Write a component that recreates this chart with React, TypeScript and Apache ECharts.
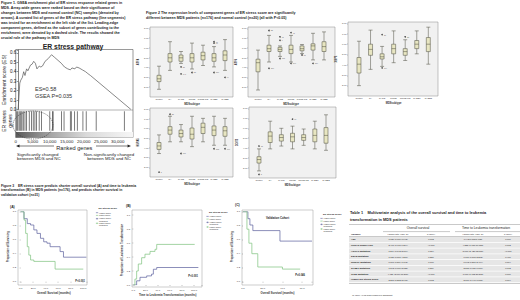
import React, { useEffect, useRef } from "react";
import * as echarts from "echarts";

const FONT = "'Liberation Sans', Arial, sans-serif";

// ---------- captions ----------
const fig1Caption = [
  "Figure 1. GSEA enrichment plot of ER stress response related genes in",
  "MDS. Array-wide genes were ranked based on their significance of",
  "changes between MDS and normal control (NC) samples (denoted by",
  "arrows). A curated list of genes of the ER stress pathway (line segments)",
  "was tested for an enrichment at the left side of the list. Leading-edge",
  "component genes, defined as the subset of genes contributing to the",
  "enrichment, were denoted by a dashed circle. The results showed the",
  "crucial role of the pathway in MDS",
];
const fig2Caption = [
  "Figure 2 The expression levels of component genes of ER stress score are significantly",
  "different between MDS patients (n=176) and normal control (n=20) (all with P<0.05)",
];
const fig3Caption = [
  "Figure 3    ER stress score predicts shorter overall survival (A) and time to leukemia",
  "transformation (B) in MDS patients (n=176), and predicts shorter survival in",
  "validation cohort (n=31)",
];

// ---------- Figure 1: GSEA ----------
const esRanks = [0, 490, 780, 1270, 1660, 2050, 2530, 2920, 3700, 4190, 4670, 5160, 5650, 6330, 6820, 7300, 8080, 9060, 10030, 11010, 11980, 12950, 13930, 14900, 15680, 16170, 17040, 17530, 18310, 19280, 20260, 20940, 21720, 33890];
const esValues = [0, 0.28, 0.31, 0.34, 0.4, 0.36, 0.43, 0.41, 0.47, 0.48, 0.51, 0.49, 0.43, 0.46, 0.45, 0.46, 0.51, 0.54, 0.58, 0.55, 0.52, 0.49, 0.45, 0.43, 0.42, 0.44, 0.43, 0.45, 0.44, 0.42, 0.4, 0.38, 0.36, 0];
const hitRanks = [290, 580, 970, 1270, 1560, 1850, 2240, 2730, 3210, 3990, 4670, 5160, 5650, 6140, 6910, 7600, 10030, 10810, 11010, 13450, 14220, 16070, 16360, 17330, 18120, 19770, 20740, 23670, 31950];
const esStat = "ES=0.58";
const gseaP = "GSEA P=0.035";

// ---------- Figure 2: box plots ----------
const subtypes = ["Control", "RA", "RARS", "RCMD", "RCMD-RS", "RAEB1", "RAEB2"];
const geneNames = ["ATF4", "ATF6", "XBP1", "HSPA5", "DDIT3"];
const boxAtf4 = [[11, 22, 26, 31, 44], [38, 50, 56, 62, 79], [48, 51, 56, 60, 65], [40, 50, 56, 62, 77], [45, 53, 59, 64, 74], [43, 51, 56, 62, 72], [38, 52, 60, 66, 82]];
const outAtf4 = [[2, 43, "88"], [2, 33, "141"], [3, 35, "52"], [5, 79, "17"], [5, 77, "96"], [5, 35, "120"], [6, 28, "64"]];
const boxAtf6 = [[10, 36, 49, 54, 67], [50, 65, 69, 74, 88], [58, 65, 68, 71, 73], [50, 62, 68, 74, 88], [62, 66, 69, 73, 75], [53, 67, 73, 76, 91], [53, 65, 72, 79, 93]];
const outAtf6 = [[1, 95, "33"], [1, 41, "150"], [2, 86, "71"], [2, 81, "9"], [2, 55, "112"], [3, 92, "45"], [3, 48, "160"], [4, 60, "81"], [5, 48, "129"]];
const boxXbp1 = [[14, 31, 43, 52, 74], [36, 55, 63, 70, 89], [40, 50, 53, 57, 67], [45, 57, 64, 70, 88], [48, 55, 60, 64, 76], [57, 64, 70, 75, 88], [43, 60, 70, 79, 93]];
const outXbp1 = [[2, 83, "27"], [2, 38, "104"], [4, 80, "58"]];
const boxHspa5 = [[34, 40, 45, 50, 61], [51, 62, 68, 73, 88], [51, 58, 63, 68, 76], [44, 55, 62, 71, 88], [51, 63, 72, 78, 85], [46, 60, 68, 74, 88], [46, 59, 67, 73, 85]];
const outHspa5 = [[0, 7, "5"], [1, 91, "38"], [2, 34, "117"], [5, 41, "132"], [6, 41, "170"]];
const boxDdit3 = [[10, 21, 26, 30, 41], [41, 50, 59, 65, 80], [45, 52, 57, 61, 70], [41, 51, 58, 63, 73], [46, 53, 57, 61, 69], [41, 51, 60, 69, 80], [39, 49, 60, 71, 89]];
const outDdit3 = [[0, 45, "12"], [0, 5, "3"], [3, 83, "66"]];

// ---------- Figure 3: survival ----------
const osHighT = [0, 5.3, 10.5, 15.8, 21, 26, 31.6, 36.8, 42, 47, 63, 68.4, 105];
const osHighS = [1, 0.9, 0.83, 0.81, 0.74, 0.69, 0.62, 0.57, 0.55, 0.5, 0.43, 0.35, 0.35];
const osLowT = [0, 5.3, 7.9, 10.5, 13, 15.8, 21, 55, 100];
const osLowS = [1, 0.88, 0.69, 0.5, 0.38, 0.31, 0.29, 0.18, 0.18];
const ltHighT = [0, 5.5, 11, 22, 30, 33, 38.5, 107];
const ltHighP = [0, 0.06, 0.11, 0.13, 0.155, 0.225, 0.25, 0.25];
const ltLowT = [0, 2.7, 5.5, 8.2, 13.7, 19.2, 27.5, 35.7, 38.5, 101];
const ltLowP = [0, 0.085, 0.2, 0.3, 0.39, 0.44, 0.48, 0.51, 0.58, 0.58];
const valHighT = [0, 5, 7, 10, 37.5, 70];
const valHighS = [1, 0.9, 0.81, 0.73, 0.58, 0.58];
const valLowT = [0, 4, 6, 9, 15, 40, 58];
const valLowS = [1, 0.75, 0.55, 0.4, 0.21, 0.18, 0.18];
const legendTitle = "ER Stress Score";
const legendItems = ["Higher score", "Lower score", "Higher score-\ncensored", "Lower score-\ncensored"];

// ---------- Table 1 ----------
const tableTitle = [
  "Table 1    Multivariate analysis of the overall survival and time to leukemia",
  "transformation in MDS patients",
];
const tableVariables = ["Age", "IPSS-R higher risk", "ASXL1 mutation", "EZH2 mutation", "RUNX1 mutation", "SF3B1 mutation", "TP53 mutation", "Higher ER stress score"];
const tableHrOs = ["1.026 (1.010-1.043)", "3.477 (1.918-6.304)", "1.514 (0.843-2.609)", "1.737 (0.801-4.278)", "0.867 (0.519-1.793)", "1.342 (0.687-2.623)", "4.626 (2.009-11.265)", "2.208 (1.302-3.745)"];
const tablePOs = ["0.002", "<0.001", "0.154", "0.250", "0.700", "0.389", "<0.001", "0.003"];
const tableHrLt = ["0.942(0.883-1.003)", "4.235 (1.668-10.753)", "5.617 (2.436-12.875)", "0.616 (0.168-2.262)", "0.843 (0.287-2.464)", "2.515 (0.920-6.876)", "7.078 (1.772-28.272)", "3.176 (1.440-7.005)"];
const tablePLt = ["0.060", "0.002", "<0.001", "0.460", "0.804", "0.072", "0.006", "0.004"];
const tableFootnote = "*P value <0.05 was considered significant";

const BLUE = "#5a5e9c";
const GREEN = "#7cc27c";

function txt(x: number, y: number, text: string, size: number, style: any = {}, extra: any = {}) {
  return {
    type: "text",
    x,
    y,
    z: 20,
    silent: true,
    ...extra,
    style: { text, fontSize: size, fontFamily: FONT, fill: "#222", align: "left", verticalAlign: "middle", ...style },
  };
}
function ln(x1: number, y1: number, x2: number, y2: number, stroke = "#444", lineWidth = 0.5, extra: any = {}) {
  return { type: "line", z: 20, silent: true, shape: { x1, y1, x2, y2 }, style: { stroke, lineWidth, ...extra } };
}
function rc(x: number, y: number, w: number, h: number, style: any, z = 0) {
  return { type: "rect", z, silent: true, shape: { x, y, width: w, height: h }, style };
}

function buildOption() {
  const grid: any[] = [];
  const xAxis: any[] = [];
  const yAxis: any[] = [];
  const series: any[] = [];
  const graphic: any[] = [];

  // captions
  fig1Caption.forEach((l, i) => graphic.push(txt(1, 2.7 + i * 5, l, 3.6, { fontWeight: "bold" })));
  fig2Caption.forEach((l, i) => graphic.push(txt(146, 12.5 + i * 5.5, l, 3.6, { fontWeight: "bold" })));
  fig3Caption.forEach((l, i) => graphic.push(txt(1, 185.7 + i * 4.4, l, 3.4, { fontWeight: "bold" })));

  // ---- GSEA ----
  graphic.push(txt(73, 46, "ER stress pathway", 6.8, { fontWeight: "bold", align: "center" }));
  graphic.push(rc(15.7, 49.5, 117.3, 88, { fill: "#fff", stroke: "#555", lineWidth: 0.6 }));
  graphic.push(ln(15.7, 110, 133, 110, "#666", 0.5));
  graphic.push(
    rc(15.7, 132, 117.3, 5.5, {
      fill: new echarts.graphic.LinearGradient(0, 0, 1, 0, [
        { offset: 0, color: "#5a5a5a" },
        { offset: 0.3, color: "#a5a5a5" },
        { offset: 0.6, color: "#dadada" },
        { offset: 1, color: "#f6f6f6" },
      ]),
    }, 1)
  );
  graphic.push({
    type: "ellipse",
    z: 20,
    silent: true,
    shape: { cx: 33, cy: 125, rx: 20, ry: 14 },
    style: { fill: "none", stroke: "#333", lineWidth: 0.6, lineDash: [1.2, 1] },
  });
  graphic.push(txt(35, 89, esStat, 5.5, { fill: "#333" }));
  graphic.push(txt(35, 96, gseaP, 5.5, { fill: "#333" }));
  graphic.push(txt(7, 121, "ER stress\ngenes", 5, { align: "center", lineHeight: 5.5 }, { rotation: Math.PI / 2 }));
  // arrows
  graphic.push(ln(19, 146, 54, 146, "#222", 0.6));
  graphic.push({ type: "polygon", z: 20, silent: true, shape: { points: [[16, 146], [19.5, 144.6], [19.5, 147.4]] }, style: { fill: "#222" } });
  graphic.push(ln(96, 146, 127.5, 146, "#222", 0.6));
  graphic.push({ type: "polygon", z: 20, silent: true, shape: { points: [[131, 146], [127.5, 144.6], [127.5, 147.4]] }, style: { fill: "#222" } });
  graphic.push(txt(17, 154, "Significantly changed", 4.4));
  graphic.push(txt(17, 158.7, "between MDS and NC", 4.4));
  graphic.push(txt(109, 154, "Non-significantly changed", 4.4, { align: "center" }));
  graphic.push(txt(109, 158.7, "between MDS and NC", 4.4, { align: "center" }));

  grid.push({ left: 15.7, top: 50, width: 117.3, height: 59.5 });
  xAxis.push({ gridIndex: 0, type: "value", min: 0, max: 34500, show: false });
  yAxis.push({
    gridIndex: 0,
    type: "value",
    min: 0,
    max: 0.63,
    interval: 0.1,
    axisLine: { show: true, lineStyle: { color: "#333", width: 0.6 } },
    axisTick: { show: true, length: 1.5, lineStyle: { color: "#333", width: 0.5 } },
    splitLine: { show: false },
    axisLabel: {
      fontSize: 4.5,
      margin: 2,
      color: "#222",
      formatter: (v: number) => (Math.abs(v * 10 - Math.round(v * 10)) < 1e-6 ? v.toFixed(1) : ""),
    },
    name: "Enrichment score (ES)",
    nameLocation: "middle",
    nameGap: 9.5,
    nameTextStyle: { fontSize: 5, color: "#222" },
  });
  series.push({
    type: "line",
    xAxisIndex: 0,
    yAxisIndex: 0,
    data: esRanks.map((r, i) => [r, esValues[i]]),
    symbol: "none",
    lineStyle: { color: "#555", width: 0.7 },
  });

  grid.push({ left: 15.7, top: 110.5, width: 117.3, height: 21 });
  xAxis.push({
    gridIndex: 1,
    type: "value",
    min: 0,
    max: 34500,
    interval: 5000,
    axisLine: { show: false },
    axisTick: { show: false },
    splitLine: { show: false },
    axisLabel: {
      fontSize: 4.4,
      margin: 7.5,
      color: "#222",
      formatter: (v: number) => (v % 5000 === 0 ? v.toLocaleString("en-US") : ""),
    },
    name: "Ranked genes",
    nameLocation: "middle",
    nameGap: 13.2,
    nameTextStyle: { fontSize: 5.6, color: "#222" },
  });
  yAxis.push({ gridIndex: 1, type: "value", min: 0, max: 1, show: false });
  series.push({
    type: "scatter",
    xAxisIndex: 1,
    yAxisIndex: 1,
    data: hitRanks.map((r) => [r, 0.5]),
    symbol: "rect",
    symbolSize: [0.8, 19.5],
    itemStyle: { color: "#333" },
  });

  // ---- Box plots ----
  const boxData = [boxAtf4, boxAtf6, boxXbp1, boxHspa5, boxDdit3];
  const outData = [outAtf4, outAtf6, outXbp1, outHspa5, outDdit3];
  const boxLayout = [
    { g: { left: 153.5, top: 27, width: 77, height: 70 }, f: [150, 27, 83, 70] },
    { g: { left: 252.5, top: 27, width: 77, height: 70 }, f: [248, 27, 87, 70] },
    { g: { left: 353.2, top: 22, width: 80.9, height: 74 }, f: [348, 22, 90, 74] },
    { g: { left: 153.5, top: 108, width: 77, height: 69 }, f: [150, 108, 83, 69] },
    { g: { left: 253.4, top: 107, width: 78.2, height: 71 }, f: [249, 107, 87, 71] },
  ];
  boxLayout.forEach((p, k) => {
    const gi = grid.length;
    const [fx, fy, fw, fh] = p.f;
    graphic.push(rc(fx, fy, fw, fh, { fill: "#f1f1f1", stroke: "#8a8a8a", lineWidth: 0.5 }));
    grid.push(p.g);
    xAxis.push({
      gridIndex: gi,
      type: "category",
      data: subtypes,
      axisLine: { show: false },
      axisTick: { show: false },
      axisLabel: { fontSize: 2.2, margin: 1.5, color: "#333", interval: 0 },
      name: "MDSsubtype",
      nameLocation: "middle",
      nameGap: 6,
      nameTextStyle: { fontSize: 2.6, color: "#333", fontWeight: "bold" },
    });
    yAxis.push({
      gridIndex: gi,
      type: "value",
      min: 0,
      max: 100,
      interval: 14,
      offset: p.g.left - fx,
      axisLine: { show: false },
      axisTick: { show: true, length: 1, lineStyle: { color: "#777", width: 0.4 } },
      splitLine: { show: false },
      axisLabel: {
        fontSize: 2.3,
        margin: 1.5,
        color: "#444",
        showMinLabel: false,
        showMaxLabel: false,
        formatter: (v: number) => (v % 14 === 0 ? (v / 14 + 1).toFixed(2) : ""),
      },
      name: geneNames[k],
      nameLocation: "middle",
      nameGap: 9,
      nameTextStyle: { fontSize: 2.6, color: "#333", fontWeight: "bold" },
    });
    series.push({
      type: "boxplot",
      xAxisIndex: gi,
      yAxisIndex: gi,
      data: boxData[k],
      boxWidth: [4, 4],
      itemStyle: { color: "#e8e6c2", borderColor: "#4a4a3c", borderWidth: 0.5 },
    });
    series.push({
      type: "scatter",
      xAxisIndex: gi,
      yAxisIndex: gi,
      data: outData[k].map((o) => ({ value: [o[0], o[1]], name: o[2] })),
      symbolSize: 1.6,
      itemStyle: { color: "#222" },
      label: { show: true, position: "right", distance: 1, fontSize: 1.9, color: "#333", formatter: (d: any) => d.name },
    });
  });

  // ---- Survival plots ----
  const surv = [
    {
      label: "(A)", lx: 10, ly: 207,
      f: [18, 210, 69, 75], g: { left: 20.7, top: 211.7, width: 66.3, height: 70 },
      xmax: 106, xname: "Overall Survival (months)", yname: "Proportion of Surviving",
      hi: [osHighT, osHighS], lo: [osLowT, osLowS], p: "P<0.001", px: 85, py: 281,
      leg: [98.5, 208.3], title: "",
    },
    {
      label: "(B)", lx: 126, ly: 206,
      f: [132, 210, 70, 77], g: { left: 133.3, top: 215, width: 68.7, height: 70 },
      xmax: 113, xname: "Time to Leukemia Transformation (months)", yname: "Proportion of Leukemia Transformation",
      hi: [ltHighT, ltHighP], lo: [ltLowT, ltLowP], p: "P<0.001", px: 198, py: 276,
      leg: [209, 212], title: "",
    },
    {
      label: "(C)", lx: 235, ly: 205,
      f: [242, 210, 71, 75], g: { left: 243, top: 211.7, width: 69, height: 70 },
      xmax: 70, xname: "Overall Survival (months)", yname: "Proportion of Surviving",
      hi: [valHighT, valHighS], lo: [valLowT, valLowS], p: "P=0.046", px: 305, py: 275,
      leg: [323, 214], title: "Validation Cohort",
    },
  ];
  surv.forEach((s) => {
    const gi = grid.length;
    const [fx, fy, fw, fh] = s.f;
    graphic.push(rc(fx, fy, fw, fh, { fill: "#fff", stroke: "#9a9a9a", lineWidth: 0.5 }));
    graphic.push(txt(s.lx, s.ly, s.label, 3.4, { fontWeight: "bold" }));
    graphic.push(txt(s.px, s.py, s.p, 2.6, { fontWeight: "bold", align: "right" }));
    if (s.title) graphic.push(txt(fx + fw / 2, 218, s.title, 2.8, { align: "center", fontWeight: "bold" }));
    const [lx0, ly0] = s.leg;
    graphic.push(txt(lx0, ly0, legendTitle, 2.4, { fontWeight: "bold" }));
    const offs = [4.4, 7.1, 10.4, 15];
    legendItems.forEach((t, i) => {
      const col = i % 2 === 0 ? BLUE : GREEN;
      const yy = ly0 + offs[i];
      graphic.push(ln(lx0 - 2.6, yy, lx0 - 0.3, yy, col, 0.6));
      if (i >= 2) graphic.push(ln(lx0 - 1.45, yy - 0.8, lx0 - 1.45, yy + 0.8, col, 0.5));
      graphic.push(txt(lx0 + 0.5, i >= 2 ? yy + 1 : yy, t, 2.1, { lineHeight: 2.3 }));
    });
    grid.push(s.g);
    const bottom = s.g.top + s.g.height;
    xAxis.push({
      gridIndex: gi,
      type: "value",
      min: 0,
      max: s.xmax,
      interval: 20,
      offset: fy + fh - bottom,
      axisLine: { show: false },
      axisTick: { show: true, length: 1, lineStyle: { color: "#666", width: 0.4 } },
      splitLine: { show: false },
      axisLabel: {
        fontSize: 2.5,
        margin: 1.8,
        color: "#333",
        formatter: (v: number) => (v % 20 === 0 ? v.toFixed(1) : ""),
      },
      name: s.xname,
      nameLocation: "middle",
      nameGap: 6.5,
      nameTextStyle: { fontSize: 2.8, color: "#333", fontWeight: "bold" },
    });
    yAxis.push({
      gridIndex: gi,
      type: "value",
      min: 0,
      max: 1,
      interval: 0.2,
      offset: s.g.left - fx,
      axisLine: { show: false },
      axisTick: { show: true, length: 1, lineStyle: { color: "#666", width: 0.4 } },
      splitLine: { show: false },
      axisLabel: { fontSize: 2.5, margin: 1.8, color: "#333", formatter: (v: number) => v.toFixed(1) },
      name: s.yname,
      nameLocation: "middle",
      nameGap: 8,
      nameTextStyle: { fontSize: 2.8, color: "#333", fontWeight: "bold" },
    });
    series.push({
      type: "line", step: "end", xAxisIndex: gi, yAxisIndex: gi, symbol: "none",
      data: s.hi[0].map((t, i) => [t, s.hi[1][i]]),
      lineStyle: { color: BLUE, width: 0.7 },
    });
    series.push({
      type: "line", step: "end", xAxisIndex: gi, yAxisIndex: gi, symbol: "none",
      data: s.lo[0].map((t, i) => [t, s.lo[1][i]]),
      lineStyle: { color: GREEN, width: 0.7 },
    });
  });

  // ---- Table 1 ----
  tableTitle.forEach((l, i) => graphic.push(txt(350, 212.5 + i * 6.8, l, 3.9, { fontWeight: "bold" })));
  graphic.push(ln(349, 224.5, 520, 224.5, "#777", 0.4));
  graphic.push(txt(418, 228.3, "Overall survival", 3.3, { align: "center" }));
  graphic.push(txt(486, 228.3, "Time to Leukemia transformation", 3.3, { align: "center" }));
  graphic.push(ln(383, 231.6, 450, 231.6, "#777", 0.4));
  graphic.push(ln(455, 231.6, 520, 231.6, "#777", 0.4));
  graphic.push(txt(351, 234.1, "Variable", 2.5, { fontWeight: "bold" }));
  const cols = [398, 431, 473, 508];
  ["Hazard ratio (95% CI)", "P value*", "Hazard ratio (95% CI)", "P value*"].forEach((h, i) =>
    graphic.push(txt(cols[i], 234.1, h, 2.2, { align: "center" }))
  );
  graphic.push(ln(349, 236.5, 520, 236.5, "#777", 0.4));
  tableVariables.forEach((v, i) => {
    const yy = 239.5 + i * 5.75;
    graphic.push(rc(349, yy - 2.55, 171, 5.1, { fill: "#e6e6e6" }));
    graphic.push(txt(351, yy, v, 2.5, { fontWeight: "bold" }));
    [tableHrOs[i], tablePOs[i], tableHrLt[i], tablePLt[i]].forEach((c, j) =>
      graphic.push(txt(cols[j], yy, c, 2.2, { align: "center" }))
    );
  });
  graphic.push(ln(349, 283.5, 520, 283.5, "#777", 0.4));
  graphic.push(txt(352, 295, tableFootnote, 2.2));

  return {
    animation: false,
    backgroundColor: "#ffffff",
    textStyle: { fontFamily: FONT },
    grid,
    xAxis,
    yAxis,
    series,
    graphic: { elements: graphic },
  };
}

export default function App() {
  const ref = useRef<HTMLDivElement>(null);
  useEffect(() => {
    const chart = echarts.init(ref.current!, null, { renderer: "svg" });
    chart.setOption(buildOption() as any);
    return () => chart.dispose();
  }, []);
  return (
    <div
      ref={ref}
      style={{ position: "absolute", left: 0, top: 0, width: 520, height: 300, background: "#fff" }}
    />
  );
}
